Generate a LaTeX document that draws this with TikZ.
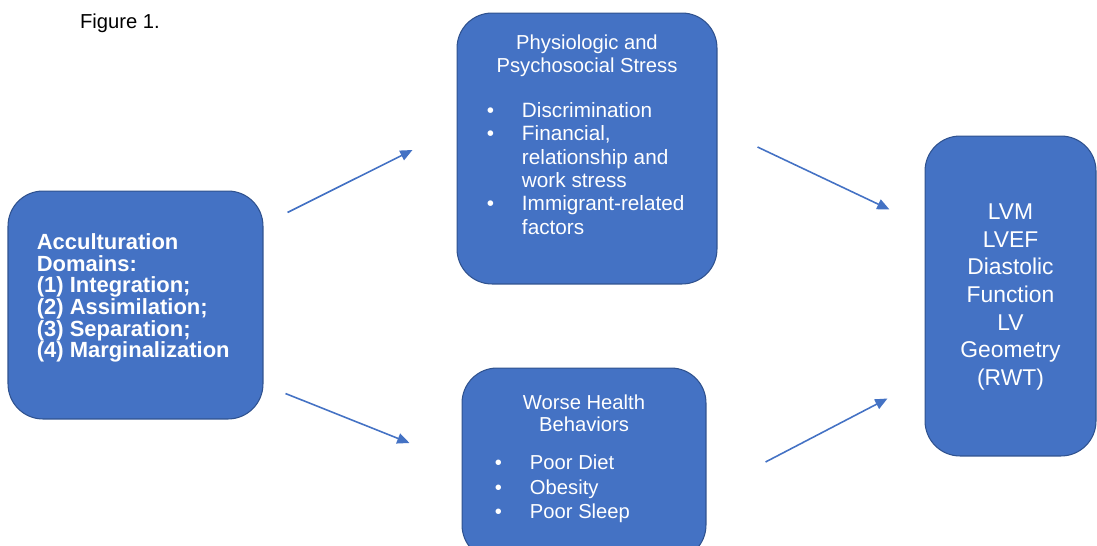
\documentclass[tikz,border=0pt]{standalone}
\usepackage{fontspec}
\setmainfont{Liberation Sans}
\usetikzlibrary{arrows.meta}
\definecolor{boxblue}{HTML}{4472C4}
\definecolor{boxedge}{HTML}{2F528F}
\newcommand{\bul}{\makebox[20pt][l]{\textbullet}}
\newcommand{\nobul}{\makebox[20pt]{}}

\begin{document}
\begin{tikzpicture}[x=0.02cm, y=-0.02cm,
  box/.style = {draw=boxedge, line width=0.6pt, fill=boxblue, rounded corners=0.7cm},
  txt/.style = {text=white, inner sep=0pt},
  arr/.style = {draw=boxblue, line width=0.9pt, -{Triangle[length=7pt,width=6pt]}}]
\useasboundingbox (0,0) rectangle (1097,545);
\node[inner sep=0pt, font=\fontsize{11.5}{13}\selectfont] (fig) at (120,23) {Figure 1.};
\node[box, minimum width=5.1cm, minimum height=4.56cm] (acc) at (135.5,305) {};
\node[box, minimum width=5.2cm, minimum height=5.42cm] (stress) at (587,148.5) {};
\node[box, minimum width=4.88cm, minimum height=3.84cm] (health) at (584,464) {};
\node[box, minimum width=3.42cm, minimum height=6.4cm] (lv) at (1010.5,296) {};
\node[txt, anchor=west, align=left, font=\fontsize{12.5}{12.3}\selectfont\bfseries] (acctxt) at ([shift={(29,-7)}]acc.west) {Acculturation\\Domains:\\(1) Integration;\\(2) Assimilation;\\(3) Separation;\\(4) Marginalization};
\node[txt, align=center, font=\fontsize{11.5}{12.8}\selectfont] (sttl) at ([shift={(0,43.5)}]stress.north) {Physiologic and\\Psychosocial Stress};
\node[txt, anchor=west, align=left, font=\fontsize{11.8}{13.3}\selectfont] (stlist) at ([shift={(30,20)}]stress.west) {\bul Discrimination\\\bul Financial,\\\nobul relationship and\\\nobul work stress\\\bul Immigrant-related\\\nobul factors};
\node[txt, align=center, font=\fontsize{11.5}{12.8}\selectfont] (htl) at ([shift={(0,46)}]health.north) {Worse Health\\Behaviors};
\node[txt, anchor=west, align=left, font=\fontsize{11.5}{14}\selectfont] (hlist) at ([shift={(33,25)}]health.west) {\bul Poor Diet\\\bul Obesity\\\bul Poor Sleep};
\node[txt, align=center, font=\fontsize{13}{15.7}\selectfont] (lvtxt) at ([shift={(0,1)}]lv.center) {LVM\\LVEF\\Diastolic\\Function\\LV\\Geometry\\(RWT)};
\draw[arr] ([shift={(24,22)}]acc.north east) -- ([shift={(-44,1.5)}]stress.west);
\draw[arr] ([shift={(22,-26)}]acc.south east) -- ([shift={(-52,-21)}]health.west);
\draw[arr] ([shift={(40,-1.5)}]stress.east) -- ([shift={(-35,74)}]lv.north west);
\draw[arr] ([shift={(59,-2)}]health.east) -- ([shift={(-37,-58)}]lv.south west);
\end{tikzpicture}
\end{document}
